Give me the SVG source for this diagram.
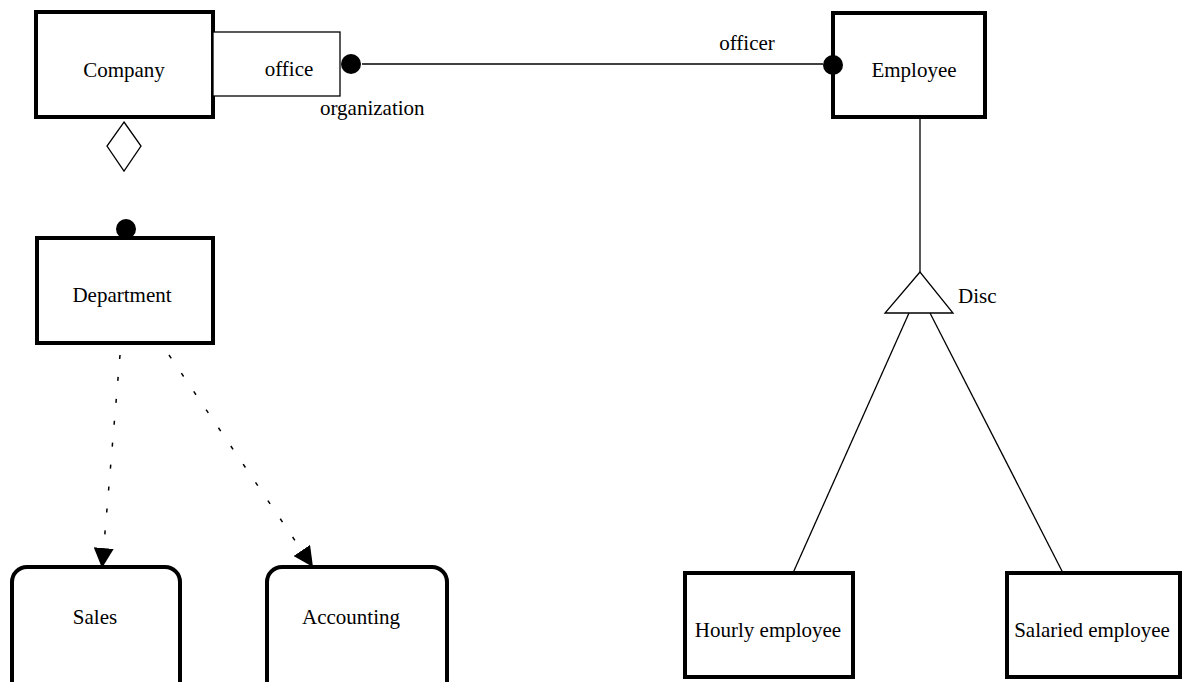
<svg xmlns="http://www.w3.org/2000/svg" width="1196" height="682" viewBox="0 0 1196 682">
<style>
.box{fill:#fff;stroke:#000;stroke-width:4}
.thin{fill:#fff;stroke:#000;stroke-width:1.3}
.ln{fill:none;stroke:#000;stroke-width:1.3}
.dash{fill:none;stroke:#000;stroke-width:1.5;stroke-dasharray:4 18}
.dot{fill:#000}
text{font-family:"Liberation Serif","Times New Roman",serif;font-size:21px;fill:#000}
.c{text-anchor:middle}
</style>
<defs>
<marker id="arr" viewBox="0 0 20 20" refX="20" refY="10" markerWidth="20" markerHeight="20" markerUnits="userSpaceOnUse" orient="auto">
<path d="M0,0 L20,10 L0,20 Z" fill="#000"/>
</marker>
</defs>
<rect width="1196" height="682" fill="#fff"/>
<g id="connectors">
<line class="ln" x1="362" y1="64" x2="823" y2="64"/>
<polygon class="thin" points="124,122 141,146 124,171 107,146"/>
<line class="dash" x1="120" y1="355" x2="102" y2="568" marker-end="url(#arr)"/>
<line class="dash" x1="169" y1="355" x2="313" y2="567" marker-end="url(#arr)"/>
<line class="ln" x1="920" y1="117" x2="920" y2="272"/>
<polygon class="thin" points="920,272 885,313 953,313"/>
<line class="ln" x1="909" y1="313" x2="793" y2="573"/>
<line class="ln" x1="930" y1="313" x2="1063" y2="573"/>
<text x="747" y="50" class="c">officer</text>
<text x="320" y="115">organization</text>
<text x="958" y="303">Disc</text>
</g>
<g id="company">
<rect class="box" x="36" y="12" width="177" height="105"/>
<text x="124" y="77" class="c">Company</text>
</g>
<g id="office">
<rect class="thin" x="213" y="32" width="127" height="64"/>
<text x="289" y="76" class="c">office</text>
<circle class="dot" cx="351" cy="64" r="10"/>
</g>
<g id="employee">
<rect class="box" x="833" y="13" width="152" height="104"/>
<circle class="dot" cx="833" cy="65" r="10"/>
<text x="914" y="77" class="c">Employee</text>
</g>
<g id="department">
<circle class="dot" cx="126" cy="229" r="10"/>
<rect class="box" x="37" y="238" width="176" height="105"/>
<text x="122" y="302" class="c">Department</text>
</g>
<g id="sales">
<rect class="box" x="12" y="567" width="168" height="130" rx="15"/>
<text x="95" y="624" class="c">Sales</text>
</g>
<g id="accounting">
<rect class="box" x="267" y="567" width="180" height="130" rx="15"/>
<text x="351" y="624" class="c">Accounting</text>
</g>
<g id="hourly">
<rect class="box" x="685" y="573" width="168" height="104"/>
<text x="768" y="637" class="c">Hourly employee</text>
</g>
<g id="salaried">
<rect class="box" x="1007" y="573" width="173" height="104"/>
<text x="1092" y="637" class="c">Salaried employee</text>
</g>
</svg>
